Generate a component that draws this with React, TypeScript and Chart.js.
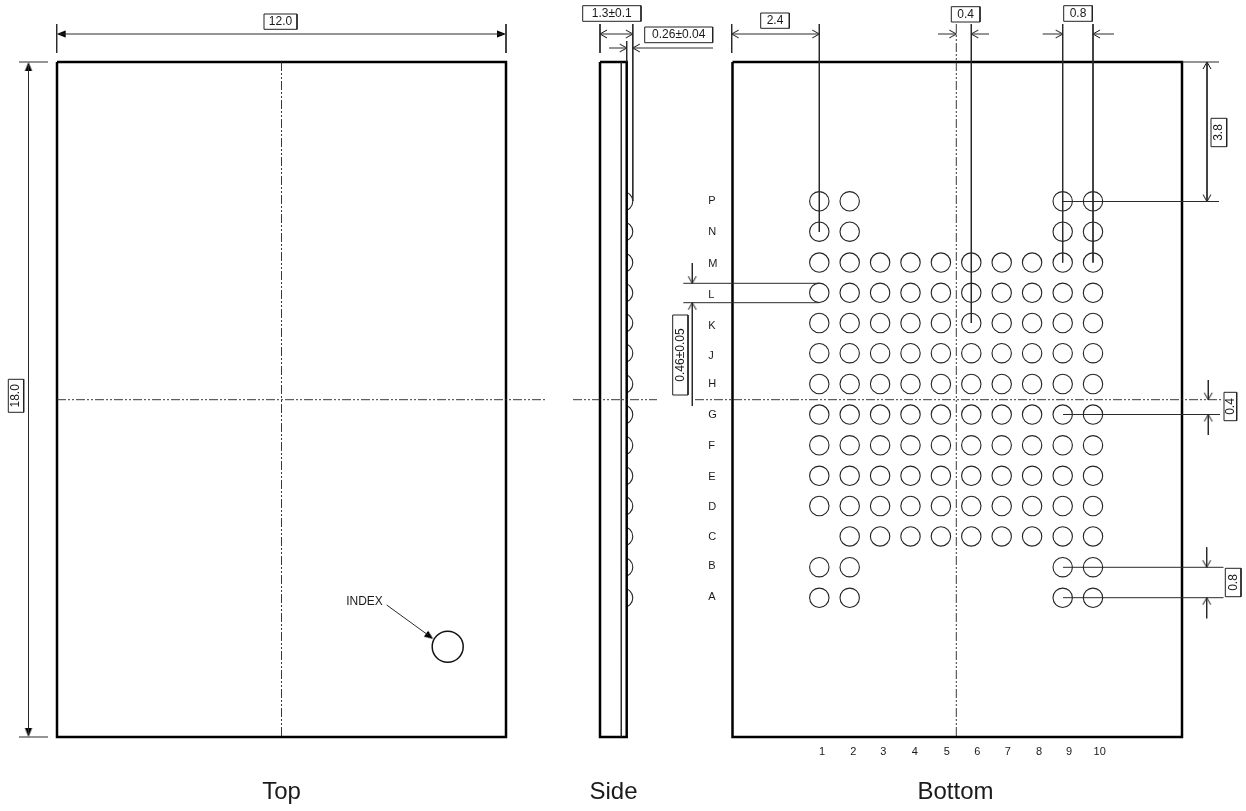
import React, { useEffect, useRef } from "react";
import { Chart, registerables } from "chart.js";

Chart.register(...registerables);

type Seg = number[];

const WIDTH = 1246;
const HEIGHT = 811;

// ---- solder ball grid (bottom view) ----
const padColumns = [819.3, 849.7, 880.1, 910.5, 940.9, 971.3, 1001.7, 1032.1, 1062.7, 1093];
const padRows = [201.3, 231.7, 262.6, 292.8, 323, 353.2, 384, 414.6, 445.3, 475.8, 506, 536.4, 567.2, 597.8];
const rowColumnIndexes = [
  [0, 1, 8, 9],
  [0, 1, 8, 9],
  [0, 1, 2, 3, 4, 5, 6, 7, 8, 9],
  [0, 1, 2, 3, 4, 5, 6, 7, 8, 9],
  [0, 1, 2, 3, 4, 5, 6, 7, 8, 9],
  [0, 1, 2, 3, 4, 5, 6, 7, 8, 9],
  [0, 1, 2, 3, 4, 5, 6, 7, 8, 9],
  [0, 1, 2, 3, 4, 5, 6, 7, 8, 9],
  [0, 1, 2, 3, 4, 5, 6, 7, 8, 9],
  [0, 1, 2, 3, 4, 5, 6, 7, 8, 9],
  [0, 1, 2, 3, 4, 5, 6, 7, 8, 9],
  [1, 2, 3, 4, 5, 6, 7, 8, 9],
  [0, 1, 8, 9],
  [0, 1, 8, 9],
];
const sideBallCentreX = [623.3];
const indexMark = [[447.7, 646.7]];

// ---- tick-like labels ----
const rowLabels = ["P", "N", "M", "L", "K", "J", "H", "G", "F", "E", "D", "C", "B", "A"];
const rowLabelY = [200.5, 232, 263.5, 295, 325.7, 355.7, 383.5, 414.5, 446, 477, 507, 537, 566, 597];
const colLabels = ["1", "2", "3", "4", "5", "6", "7", "8", "9", "10"];
const colLabelX = [822, 853.3, 883.3, 914.7, 946.7, 977.3, 1007.7, 1039, 1069, 1099.7];
const viewNames = ["Top", "Side", "Bottom"];
const viewNameX = [281.5, 613.5, 955.5];

// ---- dimension labels: text, centre x, centre y, vertical? ----
const dimTexts = ["12.0", "18.0", "1.3±0.1", "0.26±0.04", "2.4", "0.4", "0.8", "3.8", "0.46±0.05", "0.4", "0.8", "INDEX"];
const dimX = [280.5, 16, 611.8, 678.7, 775, 965.7, 1078, 1218.8, 680.3, 1230.3, 1233.2, 364.5];
const dimY = [21.7, 395.8, 13.5, 35, 20.7, 14.4, 13.5, 132.5, 355, 406.5, 582.5, 601.7];
const dimVertical = [false, true, false, false, false, false, false, true, true, true, true, false];

// ---- geometry in drawing units ----
const outlines: Seg[] = [
  [57, 62, 506, 62, 506, 737, 57, 737, 57, 62],
  [600, 62, 626.7, 62, 626.7, 737, 600, 737, 600, 62],
  [732.5, 62, 1182, 62, 1182, 737, 732.5, 737, 732.5, 62],
];
const centreLines: Seg[] = [
  [281.5, 62, 281.5, 737],
  [57, 399.7, 545, 399.7],
  [573, 399.7, 657, 399.7],
  [695, 399.7, 1222, 399.7],
  [956.3, 24, 956.3, 737],
];
const dimensionLines: Seg[] = [
  // 12.0
  [56.7, 24, 56.7, 53], [506, 24, 506, 53], [60, 34, 503, 34],
  // 18.0
  [19, 62, 48, 62], [19, 737, 48, 737], [28.5, 65, 28.5, 734],
  // side view
  [621.3, 62, 621.3, 737],
  [600, 24, 600, 53], [632.8, 24, 632.8, 201], [600, 34, 632.8, 34],
  [626.7, 41, 626.7, 62], [609, 48, 626.7, 48], [632.8, 48, 713, 48],
  // 2.4
  [731.7, 24, 731.7, 53], [819.3, 24, 819.3, 232], [731.7, 34, 819.3, 34],
  // 0.4 top
  [971.3, 24, 971.3, 323], [938, 34, 956.3, 34], [971.3, 34, 989, 34],
  // 0.8 top
  [1062.7, 24, 1062.7, 262.6], [1093, 24, 1093, 262.6], [1042.7, 34, 1062.7, 34], [1093, 34, 1114, 34],
  // 3.8
  [1182, 62, 1219, 62], [1063, 201.5, 1219, 201.5], [1207, 62, 1207, 201.5],
  // 0.46
  [683.3, 283.3, 819.3, 283.3], [683.3, 302.7, 819.3, 302.7], [692.3, 263, 692.3, 283.3], [692.3, 302.7, 692.3, 406],
  // 0.4 right
  [1063, 414.5, 1220, 414.5], [1208.3, 380, 1208.3, 399.7], [1208.3, 414.5, 1208.3, 435],
  // 0.8 right
  [1063, 567.3, 1223.5, 567.3], [1063, 597.7, 1223.5, 597.7], [1206.7, 547.3, 1206.7, 567.3], [1206.7, 597.7, 1206.7, 618.3],
  // index leader
  [386.7, 605, 428, 635],
];
const labelBoxes: Seg[] = [
  [264, 14, 297, 29.3],
  [8.3, 379.3, 23.7, 412.3],
  [582.7, 5.7, 641, 21.3],
  [644.7, 27, 712.7, 42.7],
  [760.7, 13, 789.3, 28.3],
  [951.3, 6.7, 980, 22],
  [1063.7, 5.7, 1092.3, 21.3],
  [1211, 118.3, 1226.7, 146.7],
  [672.7, 315, 688, 395],
  [1224, 392.3, 1236.7, 420.7],
  [1225.3, 568.3, 1241, 596.7],
];
const solidTips = [[56.7, 34], [506, 34], [28.5, 62], [28.5, 737], [433.3, 639]];
const solidHeadings = [-90, 90, 0, 180, 126];
const openTips = [
  [600, 34], [632.8, 34], [626.7, 48], [632.8, 48], [731.7, 34], [819.3, 34],
  [956.3, 34], [971.3, 34], [1062.7, 34], [1093, 34], [1207, 62], [1207, 201.5],
  [692.3, 283.3], [692.3, 302.7], [1208.3, 399.7], [1208.3, 414.5], [1206.7, 567.3], [1206.7, 597.7],
];
const openHeadings = [-90, 90, 90, -90, -90, 90, 90, -90, 90, -90, 0, 180, 180, 0, 180, 0, 180, 0];

const polylines = (segs: Seg[]) => {
  const out: { x: number; y: number }[] = [];
  segs.forEach((s) => {
    for (let i = 0; i < s.length; i += 2) out.push({ x: s[i], y: s[i + 1] });
    out.push({ x: NaN, y: NaN });
  });
  return out;
};
const rects = (boxes: Seg[]): Seg[] =>
  boxes.map(([a, b, c, d]) => [a, b, c, b, c, d, a, d, a, b]);
const toPoints = (pts: number[][]) => pts.map(([x, y]) => ({ x, y }));

const headSprite = (solid: boolean) => {
  const c = document.createElement("canvas");
  c.width = 28;
  c.height = 28;
  const g = c.getContext("2d")!;
  g.strokeStyle = "#111";
  g.fillStyle = "#000";
  g.lineWidth = 1;
  g.beginPath();
  if (solid) {
    g.moveTo(14, 14);
    g.lineTo(17.6, 23);
    g.lineTo(10.4, 23);
    g.closePath();
    g.fill();
  } else {
    g.moveTo(10, 21);
    g.lineTo(14, 14);
    g.lineTo(18, 21);
    g.stroke();
  }
  return c;
};

const FONT = '"Liberation Sans", Arial, sans-serif';
const INK = "#1a1a1a";

const textPlugin = {
  id: "drawingText",
  afterDatasetsDraw(chart: any) {
    const { ctx, scales } = chart;
    const px = (v: number) => scales.x.getPixelForValue(v);
    const py = (v: number) => scales.y.getPixelForValue(v);
    ctx.save();
    ctx.fillStyle = INK;
    ctx.textAlign = "center";
    ctx.textBaseline = "middle";
    ctx.font = `12px ${FONT}`;
    dimTexts.forEach((t, i) => {
      ctx.save();
      ctx.translate(px(dimX[i]), py(dimY[i]));
      if (dimVertical[i]) ctx.rotate(-Math.PI / 2);
      ctx.fillText(t, 0, 0);
      ctx.restore();
    });
    ctx.font = `11px ${FONT}`;
    colLabels.forEach((t, i) => ctx.fillText(t, px(colLabelX[i]), py(751.7)));
    ctx.textAlign = "left";
    rowLabels.forEach((t, i) => ctx.fillText(t, px(708.3), py(rowLabelY[i])));
    ctx.textAlign = "center";
    ctx.font = `24px ${FONT}`;
    viewNames.forEach((t, i) => ctx.fillText(t, px(viewNameX[i]), py(792.7)));
    ctx.restore();
  },
};

export default function App() {
  const ref = useRef<HTMLCanvasElement | null>(null);
  useEffect(() => {
    const pads = padRows.flatMap((y, r) =>
      rowColumnIndexes[r].map((c) => ({ x: padColumns[c], y }))
    );
    const sideBalls = padRows.map((y) => ({ x: sideBallCentreX[0], y }));
    const lineBase = { showLine: true, pointRadius: 0, fill: false, borderCapStyle: "butt" };
    const chart = new Chart(ref.current!, {
      type: "scatter",
      data: {
        datasets: [
          { ...lineBase, label: "centre", data: polylines(centreLines), borderColor: "#222", borderWidth: 0.9, borderDash: [9, 2, 2, 2, 2, 2] },
          { ...lineBase, label: "dims", data: polylines(dimensionLines), borderColor: "#2a2a2a", borderWidth: 1 },
          { ...lineBase, label: "boxes", data: polylines(rects(labelBoxes)), borderColor: "#222", borderWidth: 1 },
          { ...lineBase, label: "outline", data: polylines(outlines), borderColor: "#000", borderWidth: 2.5, borderJoinStyle: "miter" },
          { label: "pads", data: pads, pointRadius: 9.7, pointBorderWidth: 1.1, pointBorderColor: "#222", pointBackgroundColor: "transparent", showLine: false },
          {
            label: "side balls",
            data: sideBalls,
            pointRadius: 9.5,
            pointBorderWidth: 1.1,
            pointBorderColor: "#222",
            pointBackgroundColor: "transparent",
            showLine: false,
            clip: { left: -627, right: -(WIDTH - 640), top: 0, bottom: 0 },
          },
          { label: "index", data: toPoints(indexMark), pointRadius: 15.5, pointBorderWidth: 1.5, pointBorderColor: "#111", pointBackgroundColor: "transparent", showLine: false },
          {
            label: "solid arrows",
            data: toPoints(solidTips),
            pointStyle: headSprite(true),
            pointRadius: 5,
            pointRotation: (c: any) => solidHeadings[c.dataIndex],
            showLine: false,
          },
          {
            label: "open arrows",
            data: toPoints(openTips),
            pointStyle: headSprite(false),
            pointRadius: 5,
            pointRotation: (c: any) => openHeadings[c.dataIndex],
            showLine: false,
          },
        ] as any,
      },
      options: {
        animation: false,
        responsive: false,
        devicePixelRatio: 1,
        events: [],
        layout: { padding: 0, autoPadding: false },
        plugins: { legend: { display: false }, tooltip: { enabled: false } },
        scales: {
          x: { type: "linear", min: 0, max: WIDTH, display: false },
          y: { type: "linear", min: 0, max: HEIGHT, reverse: true, display: false },
        },
      } as any,
      plugins: [textPlugin],
    });
    return () => chart.destroy();
  }, []);
  return (
    <canvas
      ref={ref}
      width={WIDTH}
      height={HEIGHT}
      style={{ position: "absolute", left: 0, top: 0, display: "block", background: "#fff" }}
    />
  );
}
